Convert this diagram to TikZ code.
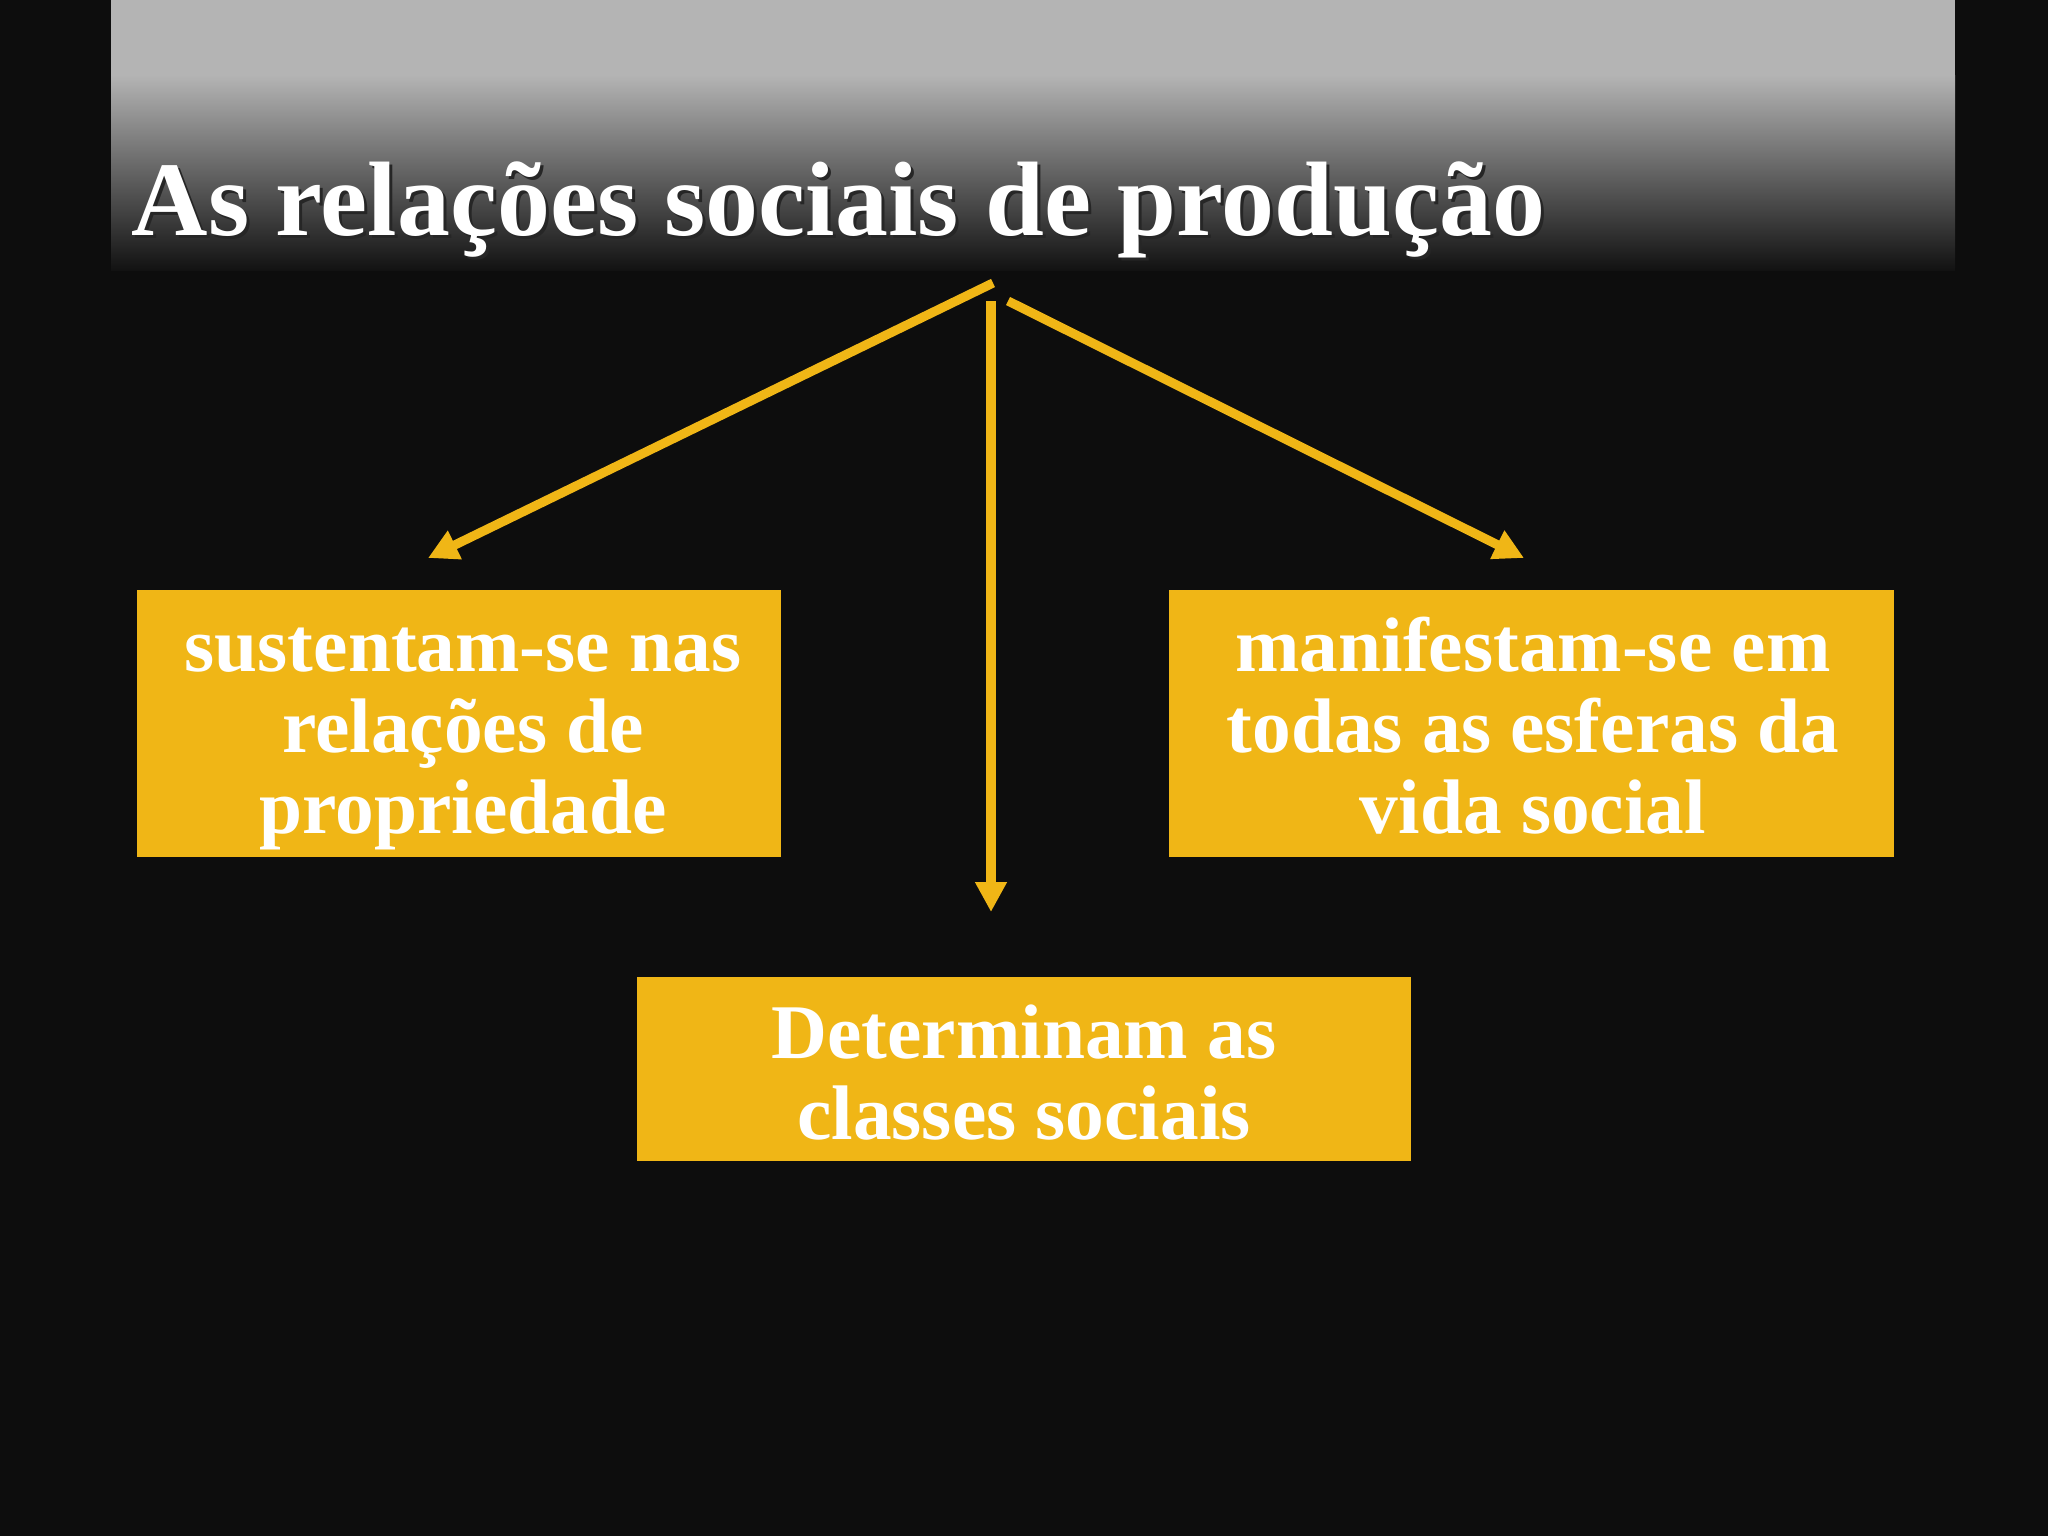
\documentclass[tikz,border=0pt]{standalone}
\usepackage{fontspec}
\setmainfont{Liberation Serif}
\usetikzlibrary{arrows.meta}
\definecolor{bg}{HTML}{0D0D0D}
\definecolor{gold}{HTML}{F0B616}
\definecolor{bandtop}{HTML}{B4B4B4}
\definecolor{bandbot}{HTML}{121212}
\tikzset{
  boxnode/.style={fill=gold, draw=none, inner sep=0pt},
  boxtext/.style={text=white, align=center, inner sep=0pt, anchor=base,
    font=\fontsize{22}{23}\selectfont\bfseries},
  titletext/.style={anchor=base west, inner sep=0pt, font=\fontsize{30.1}{33}\selectfont\bfseries},
  link/.style={draw=gold, line width=2.6pt, -{Triangle[length=8.5pt,width=8.5pt]}},
}
\begin{document}
\begin{tikzpicture}[x=0.01cm,y=-0.01cm]
\useasboundingbox (0,0) rectangle (2048,1536);
\fill[bg] (0,0) rectangle (2048,1536);
% title band
\fill[bandtop] (111,0) rectangle (1955,75);
\shade[top color=bandtop, bottom color=bandbot] (111,75) rectangle (1955,270);
\node[titletext, text=black!85] (titleshadow) at (134,238) {As relações sociais de produção};
\node[titletext, text=white] (title) at (131,235) {As relações sociais de produção};
% boxes
\node[boxnode, minimum width=644*0.01cm, minimum height=267*0.01cm] (left) at (459,723.5) {};
\node[boxtext] (lefttext) at (463,833) {sustentam-se nas\\relações de\\propriedade};
\node[boxnode, minimum width=725*0.01cm, minimum height=267*0.01cm] (right) at (1531.5,723.5) {};
\node[boxtext] (righttext) at (1533,833) {manifestam-se em\\todas as esferas da\\vida social};
\node[boxnode, minimum width=774*0.01cm, minimum height=184*0.01cm] (bottom) at (1024,1069) {};
\node[boxtext] (bottomtext) at (1024,1139) {Determinam as\\classes sociais};
% connector coordinates
\coordinate (sL) at (993,283);
\coordinate (eL) at (428,558);
\coordinate (sM) at (991,301);
\coordinate (eM) at (991,912);
\coordinate (sR) at (1008,301);
\coordinate (eR) at (1524,558);
\draw[link] (sL) -- (eL);
\draw[link] (sM) -- (eM);
\draw[link] (sR) -- (eR);
\end{tikzpicture}
\end{document}
